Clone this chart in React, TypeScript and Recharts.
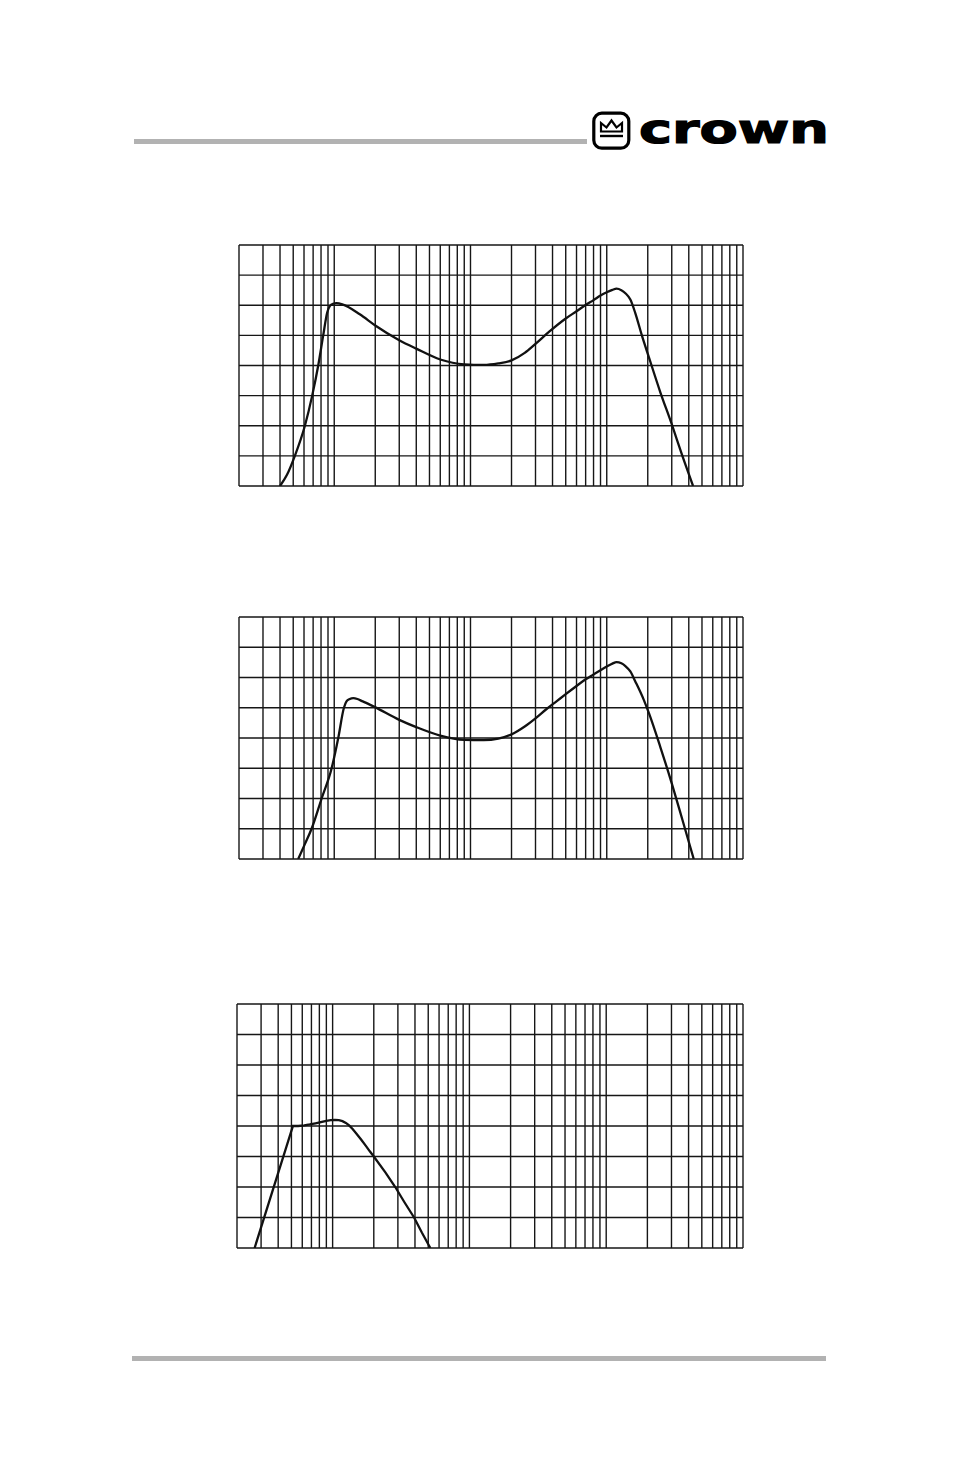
import React from 'react';
import { LineChart, Line, XAxis, YAxis, ReferenceLine } from 'recharts';

// Log-frequency grid lines (Hz) and level grid lines (divisions)
const freqTicks = [
  20, 30, 40, 50, 60, 70, 80, 90, 100,
  200, 300, 400, 500, 600, 700, 800, 900, 1000,
  2000, 3000, 4000, 5000, 6000, 7000, 8000, 9000, 10000,
  20000, 30000, 40000, 50000, 60000, 70000, 80000, 90000, 100000,
];
const levelTicks = [0, 1, 2, 3, 4, 5, 6, 7, 8];

// Chart 1
const topFreq = [40, 45, 51.4, 60.9, 68.9, 76.3, 83, 88.8, 93, 98, 104, 116, 154, 200, 300, 400, 600, 900, 1250, 1600, 2000, 2500, 3000, 3800, 5000, 6000, 7000, 8000, 9000, 10000, 11000, 11800, 12800, 13700, 14900, 16200, 18100, 20400, 24700, 30000, 35700, 43000];
const topLevel = [0, 0.37, 1, 2, 3, 4, 5, 5.76, 5.98, 6.05, 6.07, 6.02, 5.7, 5.33, 4.84, 4.56, 4.2, 4.04, 4.02, 4.07, 4.17, 4.42, 4.72, 5.13, 5.56, 5.8, 6.01, 6.17, 6.32, 6.43, 6.51, 6.55, 6.5, 6.4, 6.19, 5.74, 5.0, 4.27, 3.12, 2.05, 1.03, 0];

// Chart 2
const midFreq = [54.4, 61, 68.2, 80.8, 95.7, 107, 117.8, 123, 130, 138, 148, 160, 199, 300, 400, 600, 900, 1250, 1600, 2000, 2500, 3000, 3600, 4300, 5000, 6000, 7000, 8000, 9000, 10000, 11000, 11800, 12800, 13700, 14900, 16200, 18700, 20400, 24700, 30000, 36000, 43500];
const midLevel = [0, 0.5, 1, 2, 3, 4, 5, 5.21, 5.29, 5.32, 5.29, 5.22, 5.02, 4.6, 4.36, 4.08, 3.94, 3.93, 3.98, 4.12, 4.38, 4.65, 4.95, 5.22, 5.45, 5.72, 5.94, 6.1, 6.24, 6.36, 6.46, 6.51, 6.47, 6.38, 6.2, 5.87, 5.26, 4.82, 3.71, 2.5, 1.28, 0];

// Chart 3
const lowFreq = [26.9, 51.3, 56, 62, 68, 75, 82, 90, 97, 104, 111, 118, 125, 132, 140, 150, 162, 175, 187, 200, 243, 287, 335, 394, 450, 518];
const lowLevel = [0, 4.0, 4.0, 4.02, 4.05, 4.09, 4.13, 4.17, 4.19, 4.2, 4.19, 4.16, 4.1, 4.02, 3.9, 3.74, 3.55, 3.35, 3.17, 3.0, 2.48, 2.0, 1.5, 1.0, 0.5, 0];

const toData = (fs: number[], vs: number[]) => fs.map((f, i) => ({ f, v: vs[i] }));

type PanelProps = {
  fs: number[];
  vs: number[];
  left: number;
  top: number;
  width: number;
  height: number;
  curve: 'monotone' | 'linear';
};

function Panel({ fs, vs, left, top, width, height, curve }: PanelProps) {
  return (
    <div style={{ position: 'absolute', left, top, width, height }}>
      <LineChart width={width} height={height} data={toData(fs, vs)} margin={{ top: 5, right: 5, bottom: 5, left: 5 }}>
        <XAxis
          dataKey="f"
          type="number"
          scale="log"
          domain={[20, 100000]}
          ticks={freqTicks}
          interval={0}
          allowDataOverflow
          tick={false}
          tickLine={false}
          axisLine={false}
          height={0}
        />
        <YAxis
          type="number"
          domain={[0, 8]}
          ticks={levelTicks}
          interval={0}
          allowDataOverflow
          tick={false}
          tickLine={false}
          axisLine={false}
          width={0}
        />
        {freqTicks.map((f) => (
          <ReferenceLine key={`x${f}`} x={f} stroke="#161616" strokeWidth={1.4} />
        ))}
        {levelTicks.map((l) => (
          <ReferenceLine key={`y${l}`} y={l} stroke="#161616" strokeWidth={1.4} />
        ))}
        <Line type={curve} dataKey="v" stroke="#111" strokeWidth={2.3} dot={false} isAnimationActive={false} />
      </LineChart>
    </div>
  );
}

function Logo() {
  return (
    <svg width={250} height={50} style={{ position: 'absolute', left: 585, top: 105 }}>
      <rect x={8.8} y={8.2} width={35} height={35} rx={8} ry={8} fill="#fff" stroke="#000" strokeWidth={3.2} />
      <path d="M16 26.5 L16 18 L21.5 22.5 L26.5 15.5 L31.5 22.5 L37 18 L37 26.5 Z" fill="none" stroke="#000" strokeWidth={2.2} strokeLinejoin="miter" />
      <line x1={15} y1={31} x2={38} y2={31} stroke="#000" strokeWidth={2.4} />
      <text
        x={54}
        y={37.7}
        fontFamily="DejaVu Sans"
        fontWeight="bold"
        fontSize={41}
        textLength={190}
        lengthAdjust="spacingAndGlyphs"
        fill="#000"
        stroke="#000"
        strokeWidth={1.2}
      >
        crown
      </text>
    </svg>
  );
}

export default function App() {
  return (
    <div style={{ position: 'absolute', left: 0, top: 0, width: 954, height: 1475, background: '#fff', overflow: 'hidden' }}>
      <div style={{ position: 'absolute', left: 134, top: 139, width: 453, height: 5, background: '#b2b2b2' }} />
      <Logo />
      <Panel fs={topFreq} vs={topLevel} left={234} top={240} width={514} height={251} curve="monotone" />
      <Panel fs={midFreq} vs={midLevel} left={234} top={612} width={514} height={252} curve="monotone" />
      <Panel fs={lowFreq} vs={lowLevel} left={232} top={999} width={516} height={254} curve="linear" />
      <div style={{ position: 'absolute', left: 132, top: 1356, width: 694, height: 5, background: '#b2b2b2' }} />
    </div>
  );
}
